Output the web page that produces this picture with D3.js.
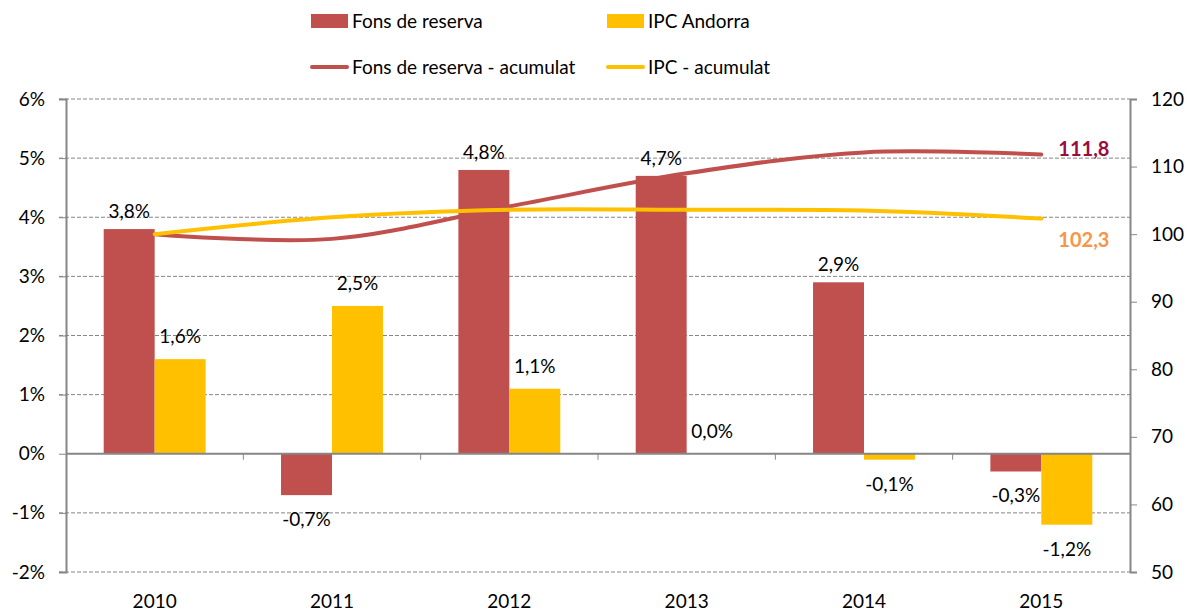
<!DOCTYPE html>
<html><head><meta charset="utf-8">
<script src="https://cdn.jsdelivr.net/npm/d3@7"></script>
<style>
body{margin:0;background:#fff;}
text{font-family:Lato,"Open Sans",sans-serif;fill:#000;}
</style></head>
<body><svg id="c" width="1200" height="612"></svg>
<script>
const years = ["2010","2011","2012","2013","2014","2015"];
const fonsValues = [3.8, -0.7, 4.8, 4.7, 2.9, -0.3];
const ipcValues = [1.6, 2.5, 1.1, 0.0, -0.1, -1.2];
const fonsAccum = [100, 99.3, 104.1, 109.0, 112.1, 111.8];
const ipcAccum = [100, 102.5, 103.6, 103.6, 103.5, 102.3];
const leftTicks = [-2, -1, 0, 1, 2, 3, 4, 5, 6];
const rightTicks = [50, 60, 70, 80, 90, 100, 110, 120];
const seriesNames = ["Fons de reserva", "IPC Andorra"];
const lineNames = ["Fons de reserva - acumulat", "IPC - acumulat"];

const RED = "#C0504D", YEL = "#FFC000", GRID = "#868686";
const svg = d3.select("#c");
const L = 66, R = 1130, T = 99, B = 572;
const fmt = v => d3.format(".1f")(v).replace(".", ",").replace("\u2212", "-");

const x0 = d3.scaleBand().domain(years).range([L, R]).padding(0);
const x1 = d3.scaleBand().domain(seriesNames).range([0, x0.bandwidth()]).paddingInner(0).paddingOuter(0.74);
const yL = d3.scaleLinear().domain([-2, 6]).range([B, T]);
const yR = d3.scaleLinear().domain([50, 120]).range([B, T]);

// gridlines
svg.append("g").selectAll("line").data(leftTicks.filter(d => d !== 0)).join("line")
  .attr("x1", L - 7).attr("x2", R).attr("y1", d => yL(d)).attr("y2", d => yL(d))
  .attr("stroke", GRID).attr("stroke-width", 1).attr("stroke-dasharray", "4,2");

// left axis
const gl = svg.append("g").attr("transform", `translate(${L},0)`)
  .call(d3.axisLeft(yL).tickValues(leftTicks).tickFormat(d => String(d) + "%").tickSize(7).tickPadding(14));
gl.select(".domain").attr("stroke", GRID).attr("stroke-width", 2);
gl.selectAll(".tick line").attr("stroke", GRID);
gl.selectAll("text").style("font-size", "19px").attr("fill", "#000");

// right axis
const gr = svg.append("g").attr("transform", `translate(${R},0)`)
  .call(d3.axisRight(yR).tickValues(rightTicks).tickSize(7).tickPadding(14));
gr.select(".domain").attr("stroke", GRID).attr("stroke-width", 2);
gr.selectAll(".tick line").attr("stroke", GRID);
gr.selectAll("text").style("font-size", "19px").attr("fill", "#000");

// bars
const rows = years.map((y, i) => ({year: y, vals: [fonsValues[i], ipcValues[i]]}));
const cols = [RED, YEL];
const g = svg.append("g");
rows.forEach(r => {
  r.vals.forEach((v, k) => {
    const xs = x0(r.year) + x1(seriesNames[k]);
    g.append("rect").attr("x", xs).attr("width", x1.bandwidth())
      .attr("y", yL(Math.max(0, v))).attr("height", Math.abs(yL(v) - yL(0)))
      .attr("fill", cols[k]);
  });
});

// zero line + category ticks
svg.append("line").attr("x1", L).attr("x2", R).attr("y1", yL(0)).attr("y2", yL(0))
  .attr("stroke", GRID).attr("stroke-width", 2);
svg.append("g").selectAll("line").data(years.slice(1)).join("line")
  .attr("x1", d => x0(d)).attr("x2", d => x0(d)).attr("y1", yL(0)).attr("y2", yL(0) + 6)
  .attr("stroke", GRID).attr("stroke-width", 1);

// bar labels
rows.forEach(r => {
  r.vals.forEach((v, k) => {
    const cx = x0(r.year) + x1(seriesNames[k]) + x1.bandwidth() / 2;
    const yy = v >= 0 ? yL(v) - (k === 0 ? 11 : 16) : yL(v) + 31;
    svg.append("text").attr("x", cx).attr("y", yy).attr("text-anchor", "middle")
      .style("font-size", "19px").text(fmt(v) + "%");
  });
});

// lines
const cx = d => x0(d) + x0.bandwidth() / 2;
const line = d3.line().curve(d3.curveCardinal.tension(0)).x((d, i) => cx(years[i])).y(d => yR(d));
svg.append("path").datum(fonsAccum).attr("d", line).attr("fill", "none").attr("stroke", RED)
  .attr("stroke-width", 4).attr("stroke-linecap", "round");
svg.append("path").datum(ipcAccum).attr("d", line).attr("fill", "none").attr("stroke", YEL)
  .attr("stroke-width", 4).attr("stroke-linecap", "round");

// end labels
const last = years.length - 1;
svg.append("text").attr("x", cx(years[last]) + 17).attr("y", yR(fonsAccum[last]) + 2)
  .style("font-size", "20px").style("font-weight", "bold").style("fill", "#9B0D3D").text(fmt(fonsAccum[last]));
svg.append("text").attr("x", cx(years[last]) + 17).attr("y", yR(ipcAccum[last]) + 28)
  .style("font-size", "20px").style("font-weight", "bold").style("fill", "#F79646").text(fmt(ipcAccum[last]));

// x labels
svg.append("g").selectAll("text").data(years).join("text")
  .attr("x", d => cx(d)).attr("y", 608).attr("text-anchor", "middle")
  .style("font-size", "19px").text(d => d);

// legend
const leg = svg.append("g");
const lx = [311, 607];
seriesNames.forEach((n, k) => {
  leg.append("rect").attr("x", lx[k]).attr("y", 14).attr("width", 37).attr("height", 14).attr("fill", cols[k]);
  leg.append("text").attr("x", lx[k] + 41).attr("y", 28).style("font-size", "19px").text(n);
});
lineNames.forEach((n, k) => {
  leg.append("line").attr("x1", lx[k] + 1).attr("x2", lx[k] + 36).attr("y1", 67).attr("y2", 67)
    .attr("stroke", cols[k]).attr("stroke-width", 4).attr("stroke-linecap", "round");
  leg.append("text").attr("x", lx[k] + 41).attr("y", 74).style("font-size", "19px").text(n);
});
</script></body></html>
